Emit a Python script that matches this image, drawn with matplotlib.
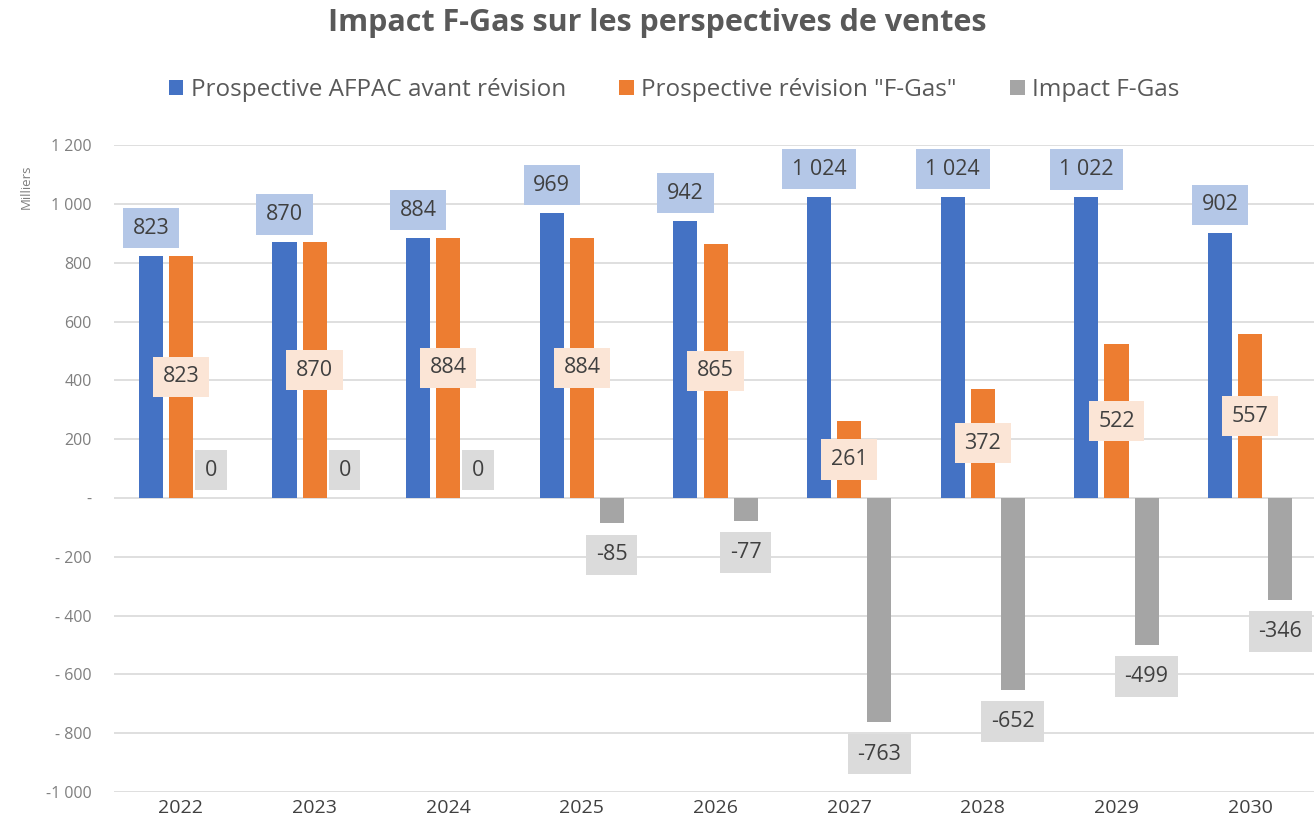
import matplotlib.pyplot as plt
import numpy as np

plt.rcParams['font.family'] = ['Open Sans', 'DejaVu Sans']

years = ["2022", "2023", "2024", "2025", "2026", "2027", "2028", "2029", "2030"]
avant = [823, 870, 884, 969, 942, 1024, 1024, 1022, 902]
revision = [823, 870, 884, 884, 865, 261, 372, 522, 557]
impact = [0, 0, 0, -85, -77, -763, -652, -499, -346]

series_names = ['Prospective AFPAC avant révision', 'Prospective révision "F-Gas"', 'Impact F-Gas']
y_ticks = [1200, 1000, 800, 600, 400, 200, 0, -200, -400, -600, -800, -1000]
y_tick_labels = ["1 200", "1 000", "800", "600", "400", "200", "-", "- 200", "- 400", "- 600", "- 800", "-1 000"]

blue, orange, grey = '#4472C4', '#ED7D31', '#A5A5A5'
blue_lt, orange_lt, grey_lt = '#B4C7E7', '#FBE5D6', '#DBDBDB'


def fmt(v):
    # French style thousands separator
    return f"{v:,}".replace(",", " ")


fig = plt.figure(figsize=(13.14, 8.33), dpi=100)
ax = fig.add_axes([0.0868, 0.0492, 0.9155, 0.7766])

x = np.arange(len(years))
w = 0.18
off = 0.225
b1 = ax.bar(x - off, avant, w, color=blue, zorder=3)
b2 = ax.bar(x, revision, w, color=orange, zorder=3)
b3 = ax.bar(x + off, impact, w, color=grey, zorder=3)

ax.set_xlim(-0.5, len(years) - 0.5)
ax.set_ylim(-1000, 1200)
ax.set_yticks(y_ticks)
ax.set_yticklabels(y_tick_labels, color='#7f7f7f', fontsize=11.5)
ax.set_xticks(x)
ax.set_xticklabels(years, color='#404040', fontsize=14)
ax.tick_params(axis='y', length=0, pad=16)
ax.tick_params(axis='x', length=0, pad=5)
ax.grid(axis='y', color='#D9D9D9', linewidth=1.2, zorder=0)
for s in ax.spines.values():
    s.set_visible(False)

lab_kw = dict(ha='center', va='center', fontsize=15.5, color='#404040', zorder=5)
box = 'square,pad=0.45'

for xi, v in zip(x - off, avant):
    ax.annotate(fmt(v), (xi, v), xytext=(0, 20), textcoords='offset points',
                bbox=dict(boxstyle=box, fc=blue_lt, ec='none'), **lab_kw)
for xi, v in zip(x, revision):
    ax.annotate(fmt(v), (xi, v / 2), xytext=(0, 0), textcoords='offset points',
                bbox=dict(boxstyle=box, fc=orange_lt, ec='none'), **lab_kw)
for xi, v in zip(x + off, impact):
    dy = 20 if v >= 0 else -23
    ax.annotate(fmt(v), (xi, v), xytext=(0, dy), textcoords='offset points',
                bbox=dict(boxstyle=box, fc=grey_lt, ec='none'), **lab_kw)

ax.set_ylabel('Milliers', color='#7f7f7f', fontsize=9.5)
ax.yaxis.set_label_coords(-0.068, 0.935)

fig.suptitle('Impact F-Gas sur les perspectives de ventes', x=0.5, y=0.99,
             fontsize=22, fontweight='bold', color='#595959')

fig.legend([b1, b2, b3], series_names, loc='center', bbox_to_anchor=(0.513, 0.892),
           ncol=3, frameon=False, fontsize=17.5, handlelength=0.6, handleheight=0.6,
           handletextpad=0.3, columnspacing=2.2, labelcolor='#595959')

fig.savefig('out.png', dpi=100)
